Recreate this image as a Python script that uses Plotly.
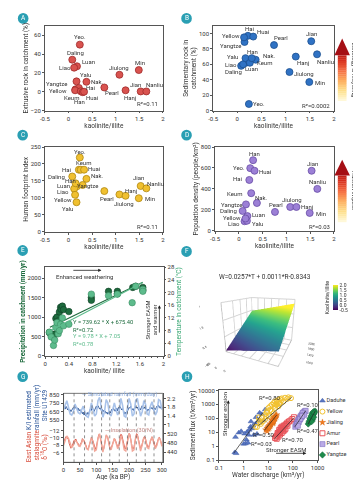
import math
import plotly.graph_objects as go

FIG_W, FIG_H = 361, 480
def fx(p): return p / FIG_W
def fy(p): return 1 - p / FIG_H

FONT = "Roboto"
INK = "#333333"

# ---------------- Panels A-D : river catchments ----------------
rivers = ["Yeo.", "Daling", "Luan", "Liao", "Yalu", "Nak.", "Yangtze", "Hai", "Yellow",
          "Keum", "Han", "Huai", "Pearl", "Jiulong", "Min", "Hanj", "Jian", "Nanliu"]
kaolinite_illite = [0.24, 0.08, 0.18, 0.12, 0.17, 0.38, 0.15, 0.22, 0.14,
                    0.26, 0.30, 0.33, 0.76, 1.08, 1.49, 1.21, 1.53, 1.65]
extrusive_pct = [50, 34, 27, 25.5, 11, 10.5, 2.5, 4, 1.5, 0.5, -0.5, 0, 4.5, 18, 23, 1.5, 0.3, 0.3]
sedimentary_pct = [8.5, 58, 62, 60, 68, 66, 89, 97, 95, 62, 68, 96, 85, 50, 37, 70, 90, 73]
human_footprint = [219, 163, 134, 127, 87, 156, 143, 183, 109, 183, 138, 183, 120, 110, 99, 106, 135, 128]
population_density = [598, 189, 140, 91, 95, 265, 252, 485, 117, 359, 674, 573, 180, 227, 170, 227, 573, 400]

# label offsets (px, right / down) for each river label, per panel
off_a = [(0, -8), (3, -7), (12, -5), (-9, 0), (9, -7), (11, 0), (-19, -6), (12, 0), (-17, 0),
         (-9, 6), (-3, 9), (8, 6), (8, 5), (0, -7), (1, -8), (5, 7), (-5, -7), (8, -7)]
off_b = [(10, 0), (-8, 6), (6, 6), (-12, 0), (-13, -2), (14, -4), (-14, 4), (2, -7), (-13, -2),
         (15, 0), (1, -7), (10, -5), (7, -8), (15, 1), (11, 0), (8, 6), (0, -8), (8, 7)]
off_c = [(0, -6), (-16, 0), (-13, -1), (-11, 3), (-9, 6), (11, -3), (12, 2), (-12, 0), (-12, 5),
         (3, -7), (-12, -4), (10, -1), (3, 7), (5, 9), (11, 0), (6, -5), (-2, -8), (9, -5)]
off_d = [(-11, -1), (-14, 0), (11, -2), (-11, 2), (11, 3), (5, -6), (-14, 0), (-11, -1), (-13, -1),
         (-17, 0), (1, -7), (11, 1), (1, -7), (2, -7), (11, 1), (11, 0), (1, -7), (0, -7)]

# ---------------- Panel E ----------------
e_ki_precip = [0.07, 0.10, 0.14, 0.16, 0.18, 0.20, 0.22, 0.24, 0.26, 0.27, 0.29, 0.31, 0.40,
               0.78, 0.78, 1.07, 1.22, 1.22, 1.48, 1.53, 1.65, 1.65]
e_precip = [600, 540, 470, 560, 960, 1000, 900, 1130, 1250, 1200, 1280, 1190, 1140,
            1500, 1430, 1660, 1660, 1600, 1760, 1790, 1760, 1690]
e_ki_temp = [0.07, 0.10, 0.14, 0.16, 0.18, 0.20, 0.22, 0.24, 0.26, 0.29, 0.31, 0.40,
             0.78, 1.07, 1.22, 1.47, 1.53, 1.65, 1.65]
e_temp = [7.5, 6.0, 3.3, 5.0, 9.0, 10.5, 7.0, 8.0, 10.0, 12.0, 9.5, 10.0,
          19.5, 19.0, 19.5, 16.8, 22.0, 21.0, 20.4]
precip_fit = (739.62, 675.40)
temp_fit = (9.78, 7.05)
fit_ki = [0.08, 1.65]

# ---------------- Panel F ----------------
f_coef_T, f_coef_R, f_intercept = 0.0257, 0.0011, -0.8343
f_temp = [-5, 0, 5, 10, 15, 20, 25]
f_rain = [500, 800, 1100, 1400, 1700, 2000, 2200]

# ---------------- Panel G ----------------
ki_rain = [690, 705, 680, 712, 695, 670, 688, 660, 672, 650, 668, 685, 700, 678, 710, 690, 705, 672,
           690, 660, 675, 640, 655, 625, 645, 610, 630, 600, 620, 640, 615, 650, 670, 690, 665, 700,
           680, 650, 670, 690, 715, 690, 720, 700, 680, 695, 665, 680, 650, 665, 640, 655, 630, 645,
           620, 640, 655, 635, 660, 680, 665, 690, 670, 655, 675, 690, 660, 700, 685, 710, 690, 670,
           685, 655, 640, 620, 645, 630, 655, 680, 700, 690, 715, 695, 670, 685, 660, 690, 710, 695,
           705, 680, 665, 690, 670, 700, 720, 700, 685, 705, 690, 670, 655, 680, 665, 690, 705, 685,
           700, 680, 665, 690, 675, 695, 715, 700, 725, 705, 690, 710, 700]
sim_rain = [1.7, 1.9, 2.1, 1.8, 1.5, 1.45, 1.6, 1.95, 1.75, 1.55, 1.5, 1.7, 1.85, 1.6, 1.4, 1.35,
            1.6, 2.0, 1.7, 1.4, 1.5, 2.1, 2.25, 1.8, 1.35, 1.6, 2.15, 2.0, 1.5, 1.4, 1.75, 2.0,
            1.7, 1.45, 1.65, 2.2, 1.9, 1.4, 1.35, 1.8, 2.2, 1.95, 1.4, 1.5, 2.1, 2.2, 1.7, 1.4,
            1.6, 2.1, 1.95, 1.5, 1.45, 1.85, 2.05, 1.7, 1.45, 1.6, 2.15, 2.1, 1.7]
d18o = [-8.8, -9.3, -9.6, -10.4, -10.2, -9.9, -9.5, -8.4, -7.8, -7.2, -7.5, -8.1, -8.6, -9.4, -9.3,
        -9.7, -9.0, -8.7, -8.4, -7.7, -8.0, -8.5, -8.9, -9.8, -9.6, -9.3, -8.8, -7.9, -7.4, -6.9,
        -7.0, -7.6, -8.3, -9.4, -9.9, -9.8, -9.1, -7.9, -7.2, -6.9, -7.6, -9.0, -10.1, -10.9, -10.8,
        -10.0, -8.9, -7.6, -6.8, -7.0, -8.1, -9.6, -10.6, -10.5, -10.0, -8.8, -7.9, -7.0, -7.1, -7.8,
        -8.7, -9.5, -9.8, -9.6, -9.0, -8.1, -7.6, -7.7, -8.5, -10.1, -11.0, -10.8, -9.9, -8.6, -7.5,
        -7.0, -7.3, -8.3, -9.5, -10.6, -11.2, -10.9, -10.0, -8.4, -7.2, -7.0, -7.6, -9.0, -10.4, -11.1,
        -11.0, -10.0, -8.6, -7.6, -7.1, -7.5, -8.4, -9.6, -10.2, -10.3, -9.8, -8.8, -7.9, -7.4, -7.6,
        -8.4, -9.3, -10.1, -10.3, -9.8, -8.9, -8.0, -7.6, -7.8, -8.3, -9.2, -9.9, -10.1, -9.6, -8.8, -8.0]
insolation = [470, 495, 510, 500, 475, 460, 470, 490, 485, 470, 465, 480, 495, 480, 455, 450,
              475, 505, 480, 445, 450, 500, 520, 480, 440, 470, 515, 505, 465, 450, 480, 500,
              480, 455, 470, 510, 490, 450, 445, 490, 520, 495, 445, 450, 505, 515, 475, 445,
              470, 505, 495, 460, 455, 490, 505, 480, 455, 470, 500, 495, 465]
dashed_ages = [32, 64, 87, 116, 141, 170, 195, 222, 249, 276]
age_fine = [i * 2.5 for i in range(len(ki_rain))]
age_d18o = [i * 2.5 for i in range(len(d18o))]
age_coarse = [i * 5 for i in range(len(sim_rain))]

# ---------------- Panel H ----------------
daduhe_q = [0.44, 0.47, 0.64, 1.0, 1.3, 1.6, 2.2, 3.0, 4.1, 5.5, 7.6, 2.6, 3.5, 1.9, 1.4, 6.5,
            0.5, 0.8, 1.2, 1.7, 2.4, 3.2, 4.5, 2.0, 1.1, 1.5]
daduhe_s = [0.37, 4.6, 9.6, 1.5, 3.0, 6.6, 19, 41, 69, 200, 435, 6.6, 7.8, 25, 11, 69,
            0.32, 12, 1.6, 15, 30, 120, 250, 60, 8, 1.8]
yellow_q = [3.5, 4.8, 5.6, 7.6, 8.8, 10.3, 12, 14, 16.4, 19, 22, 26, 30, 35.5, 48, 66, 84, 14, 19, 26,
            10.3, 7.6, 16.4, 22, 30, 41, 4.1, 4.3, 12, 20, 9, 6, 25, 35, 60, 5, 3, 8, 18, 28]
yellow_s = [24, 53, 117, 197, 333, 562, 731, 949, 1232, 1600, 1780, 2080, 2430, 2700, 3000, 3200, 2800,
            333, 562, 731, 150, 90, 220, 949, 1232, 1600, 117, 69, 400, 1000, 250, 60, 1500, 2000,
            2500, 40, 25, 140, 800, 1100]
jialing_q = [8, 9, 10, 11, 12, 14, 15, 17, 18, 20, 13, 16, 10, 22, 12, 19, 15, 9, 14, 21, 11, 17]
jialing_s = [15, 20, 25, 30, 40, 55, 70, 90, 120, 150, 35, 50, 18, 180, 28, 100, 45, 12, 80, 130, 22, 60]
amur_q = [19, 21, 23, 25, 28, 30, 33, 36, 40, 45, 50, 55, 60, 70, 80, 95, 110, 22, 26, 30, 35, 40,
          45, 50, 28, 35, 42, 24, 60, 32]
amur_s = [4, 5, 6, 8, 10, 12, 15, 18, 22, 28, 35, 40, 50, 60, 70, 90, 120, 3.5, 5, 7, 9, 12, 14, 18,
          15, 25, 30, 9, 30, 20]
pearl_q = [125, 135, 145, 155, 165, 180, 195, 210, 230, 250, 270, 290, 310, 330, 150, 190, 230, 270,
           250, 210, 175, 290, 160, 200, 240]
pearl_s = [25, 35, 45, 60, 75, 95, 120, 150, 180, 220, 260, 300, 330, 350, 40, 80, 130, 200, 250,
           110, 55, 180, 30, 90, 150]
yangtze_q = [420, 450, 480, 520, 560, 600, 640, 680, 720, 760, 800, 500, 550, 600, 650, 700, 750,
             620, 580, 700]
yangtze_s = [40, 55, 70, 90, 110, 140, 170, 200, 240, 280, 330, 100, 150, 210, 260, 300, 250, 80, 60, 120]
fit_lines = {
    "Daduhe": ([0.4, 6], [0.33, 250]),
    "Yellow": ([4, 90], [30, 3300]),
    "Jialing": ([7, 22], [14, 170]),
    "Amur": ([18, 110], [3.5, 110]),
    "Pearl": ([120, 330], [25, 350]),
    "Yangtze": ([420, 800], [40, 330]),
}
h_groups = ["Daduhe", "Yellow", "Jialing", "Amur", "Pearl", "Yangtze"]

# ---------------- figure ----------------
fig = go.Figure()
shapes, annotations = [], []
TICK_FS, LABEL_FS, TITLE_FS = 6, 6, 6.5

def base_axis(domain, anchor, **kw):
    d = dict(domain=domain, anchor=anchor, showline=True, linecolor="#555", linewidth=0.8,
             mirror=True, ticks="outside", ticklen=2, tickwidth=0.7, tickcolor="#555",
             tickfont=dict(size=TICK_FS, color=INK, family=FONT), showgrid=False, zeroline=False)
    d.update(kw)
    return d

def ttl(text, color=INK, size=TITLE_FS, standoff=1):
    return dict(text=text, font=dict(size=size, color=color, family=FONT), standoff=standoff)

def paper_note(x, y, text, size=LABEL_FS, color=INK, angle=0, **kw):
    d = dict(x=fx(x), y=fy(y), xref="paper", yref="paper", text=text, showarrow=False,
             xanchor="center", yanchor="middle", textangle=angle,
             font=dict(size=size, color=color, family=FONT))
    d.update(kw)
    return d

ki_ticks = dict(tickvals=[-0.5, 0, 0.5, 1, 1.5, 2], ticktext=["-0.5", "0", "0.5", "1", "1.5", "2"],
                range=[-0.5, 2])

def river_panel(xa, ya, yvals, fill, edge, offsets):
    fig.add_trace(go.Scatter(
        x=kaolinite_illite, y=yvals, xaxis=xa, yaxis=ya, mode="markers",
        marker=dict(size=7, color=fill, line=dict(color=edge, width=0.8)),
        showlegend=False, cliponaxis=False))
    for name, kx, v, (dx, dy) in zip(rivers, kaolinite_illite, yvals, offsets):
        annotations.append(dict(x=kx, y=v, xref=xa, yref=ya, text=name, showarrow=False,
                                xanchor="center", yanchor="middle", xshift=dx, yshift=-dy,
                                font=dict(size=LABEL_FS, color=INK, family=FONT)))

river_panel("x", "y", extrusive_pct, "#d9534f", "#9e2a2a", off_a)
river_panel("x2", "y2", sedimentary_pct, "#2f72c4", "#1c4f8f", off_b)
river_panel("x3", "y3", human_footprint, "#f0c030", "#b08810", off_c)
river_panel("x4", "y4", population_density, "#9c80d6", "#684ca6", off_d)

layout_axes = dict(
    xaxis=base_axis([fx(33), fx(155)], "y", title=ttl("kaolinite/illite"), **ki_ticks),
    yaxis=base_axis([fy(100), fy(14)], "x", range=[-20, 70], tickvals=[-20, 0, 20, 40, 60],
                    title=ttl("Extrusive rock in catchment (%)")),
    xaxis2=base_axis([fx(207), fx(332)], "y2", title=ttl("kaolinite/illite"), **ki_ticks),
    yaxis2=base_axis([fy(100), fy(14)], "x2", range=[0, 110], tickvals=[0, 20, 40, 60, 80, 100],
                     title=ttl("Sedimentary rock in<br>catchment (%)")),
    xaxis3=base_axis([fx(33), fx(155)], "y3", title=ttl("kaolinite/illite"), **ki_ticks),
    yaxis3=base_axis([fy(223), fy(137)], "x3", range=[0, 250], dtick=50,
                     title=ttl("Human footprint index")),
    xaxis4=base_axis([fx(209), fx(332)], "y4", title=ttl("kaolinite/illite"), **ki_ticks),
    yaxis4=base_axis([fy(222), fy(137)], "x4", range=[0, 800], dtick=200,
                     title=ttl("Population density (people/km²)")),
)

for xa, ya, txt, yv in [("x", "y", "R²=0.11", -13), ("x2", "y2", "R²=0.0002", 7),
                        ("x3", "y3", "R²=0.11", 15), ("x4", "y4", "R²=0.03", 45)]:
    annotations.append(dict(x=1.95, y=yv, xref=xa, yref=ya, text=txt, showarrow=False,
                            xanchor="right", font=dict(size=LABEL_FS, color=INK, family=FONT)))

# ---- Panel E
fig.add_trace(go.Scatter(x=e_ki_precip, y=e_precip, xaxis="x5", yaxis="y5", mode="markers",
                         marker=dict(size=6.5, color="#1e6b3e", line=dict(color="#0f4025", width=0.6)),
                         showlegend=False))
fig.add_trace(go.Scatter(x=e_ki_temp, y=e_temp, xaxis="x5", yaxis="y6", mode="markers",
                         marker=dict(size=6.5, color="#5dbb8c", line=dict(color="#3a8d63", width=0.6)),
                         showlegend=False))
fig.add_trace(go.Scatter(x=fit_ki, y=[precip_fit[0] * k + precip_fit[1] for k in fit_ki],
                         xaxis="x5", yaxis="y5", mode="lines", line=dict(color="#1e6b3e", width=1.1),
                         showlegend=False))
fig.add_trace(go.Scatter(x=fit_ki, y=[temp_fit[0] * k + temp_fit[1] for k in fit_ki],
                         xaxis="x5", yaxis="y6", mode="lines", line=dict(color="#5dbb8c", width=1.1),
                         showlegend=False))
layout_axes.update(
    xaxis5=base_axis([fx(33.3), fx(155.7)], "y5", range=[0, 2],
                     tickvals=[0, 0.4, 0.8, 1.2, 1.6, 2], ticktext=["0", "0.4", "0.8", "1.2", "1.6", "2"],
                     minor=dict(ticks="outside", dtick=0.1, ticklen=1.5, tickcolor="#555"),
                     title=ttl("kaolinite/ illite")),
    yaxis5=base_axis([fy(349), fy(259)], "x5", range=[0, 2280], tickvals=[0, 500, 1000, 1500, 2000],
                     mirror=False, title=ttl("<b>Precipitation in catchment (mm/yr)</b>", "#1e6b3e")),
    yaxis6=base_axis([fy(349), fy(259)], "x5", overlaying="y5", side="right", range=[0, 28], dtick=4,
                     mirror=False, title=ttl("Temperature in catchment (°C)", "#3aa874")),
)
annotations += [
    dict(x=0.66, y=2040, xref="x5", yref="y5", text="Enhanced weathering", showarrow=False,
         font=dict(size=LABEL_FS, color=INK, family=FONT)),
    dict(x=0.95, y=2200, ax=0.45, ay=2200, xref="x5", yref="y5", axref="x5", ayref="y5", text="",
         showarrow=True, arrowhead=2, arrowsize=0.8, arrowwidth=0.8, arrowcolor="#222"),
    dict(x=0.44, y=760, xref="x5", yref="y5", text="Y = 739.62 * X + 675.40<br>R²=0.72", showarrow=False,
         xanchor="left", align="left", font=dict(size=5.8, color="#1e6b3e", family=FONT)),
    dict(x=0.44, y=400, xref="x5", yref="y5", text="Y = 9.78 * X + 7.05<br>R²=0.78", showarrow=False,
         xanchor="left", align="left", font=dict(size=5.8, color="#5dbb8c", family=FONT)),
    dict(x=1.80, y=930, xref="x5", yref="y5", text="Stronger EASM<br>and warmer", showarrow=False,
         textangle=-90, font=dict(size=5.8, color=INK, family=FONT)),
    dict(x=1.93, y=1300, ax=1.93, ay=560, xref="x5", yref="y5", axref="x5", ayref="y5", text="",
         showarrow=True, arrowhead=2, arrowsize=0.8, arrowwidth=0.8, arrowcolor="#222"),
]

# ---- Panel F surface
Z = [[f_coef_T * t + f_coef_R * r + f_intercept for t in f_temp] for r in f_rain]
fig.add_trace(go.Surface(
    x=f_temp, y=f_rain, z=Z, colorscale="Viridis", cmin=-0.5, cmax=2.0, scene="scene",
    colorbar=dict(x=fx(331), xanchor="left", y=fy(289.5), yanchor="middle", len=25 / FIG_H,
                  thickness=5, tickvals=[-0.5, 0, 0.5, 1, 1.5, 2],
                  ticktext=["-0.5", "0.0", "0.5", "1.0", "1.5", "2.0"],
                  tickfont=dict(size=5, color=INK, family=FONT), outlinewidth=0, ticks="",
                  xpad=0, ypad=0),
    showscale=True))
scene_axis = dict(showbackground=True, backgroundcolor="white", gridcolor="#d5d5d5", linecolor="#999",
                  tickfont=dict(size=TICK_FS, color=INK, family=FONT), showspikes=False, zeroline=False)
fig.update_layout(scene=dict(
    domain=dict(x=[fx(192), fx(322)], y=[fy(366), fy(268)]),
    xaxis=dict(scene_axis, title=dict(text="Temperature (°C)", font=dict(size=TICK_FS, color=INK)),
               range=[-5, 25], tickvals=[-5, 0, 5, 10, 15, 20, 25]),
    yaxis=dict(scene_axis, title=dict(text="Rainfall (mm)", font=dict(size=TICK_FS, color=INK)),
               range=[500, 2200], tickvals=[500, 1000, 1400, 1800, 2200]),
    zaxis=dict(scene_axis, title=dict(text=""), range=[-0.5, 2.5], tickvals=[-0.5, 0.5, 1.5, 2.5]),
    camera=dict(eye=dict(x=0.9, y=-1.95, z=0.7), center=dict(x=0, y=0, z=0)),
    aspectmode="manual", aspectratio=dict(x=1, y=1, z=0.9)))
annotations += [
    paper_note(261, 269, "W=0.0257*T + 0.0011*R-0.8343", size=TITLE_FS),
    paper_note(325, 289.5, "Kaolinite/illite", size=5.5, angle=-90),
]

# ---- Panel G
fig.add_trace(go.Scatter(x=age_coarse, y=sim_rain, xaxis="x6", yaxis="y8", mode="lines",
                         line=dict(color="#a9c3ea", width=1.6), showlegend=False))
fig.add_trace(go.Scatter(x=age_fine, y=ki_rain, xaxis="x6", yaxis="y7", mode="lines",
                         line=dict(color="#2a5599", width=0.9), showlegend=False))
fig.add_trace(go.Scatter(x=age_coarse, y=insolation, xaxis="x6", yaxis="y10", mode="lines",
                         line=dict(color="#f2a89a", width=1.4), showlegend=False))
fig.add_trace(go.Scatter(x=age_d18o, y=d18o, xaxis="x6", yaxis="y9",
                         mode="lines", line=dict(color="#d9503f", width=0.9), showlegend=False))
g_top, g_mid, g_bot = 387, 422, 457
layout_axes.update(
    xaxis6=base_axis([fx(52.3), fx(155)], "y9", range=[0, 303], tickvals=[0, 50, 100, 150, 200, 250, 300],
                     mirror=False, title=ttl("Age (ka BP)", standoff=0)),
    yaxis7=base_axis([fy(g_mid), fy(g_top)], "x6", range=[460, 865], tickvals=[550, 650, 750, 850],
                     mirror=False),
    yaxis8=base_axis([fy(g_mid), fy(g_top)], "x6", overlaying="y7", side="right", range=[0.87, 2.43],
                     tickvals=[1, 1.4, 1.8, 2.2], mirror=False),
    yaxis9=base_axis([fy(g_bot), fy(g_mid)], "x6", range=[-3.4, -12.7], tickvals=[-12, -10, -8, -6],
                     mirror=False),
    yaxis10=base_axis([fy(g_bot), fy(g_mid)], "x6", overlaying="y9", side="right", range=[396, 545],
                      tickvals=[440, 480, 520], mirror=False),
)
shapes.append(dict(type="rect", xref="paper", yref="paper", x0=fx(52.3), x1=fx(155), y0=fy(g_bot),
                   y1=fy(g_top), line=dict(color="#555", width=0.8)))
for a in dashed_ages:
    shapes.append(dict(type="line", xref="x6", yref="paper", x0=a, x1=a, y0=fy(g_bot), y1=fy(g_top),
                       line=dict(color="#444", width=0.6, dash="dot")))
RED, BLUE = "#d9503f", "#2a5599"
annotations += [
    dict(x=50, y=2.36, xref="x6", yref="y8", text="— Simulated rainfall (mm/day)", showarrow=False,
         xanchor="left", font=dict(size=5.6, color="#8eaee0", family=FONT)),
    dict(x=120, y=533, xref="x6", yref="y10", text="— Insolation (30°N)", showarrow=False,
         xanchor="left", font=dict(size=5.6, color="#c48a86", family=FONT)),
    paper_note(16, 420, f"<span style='color:{RED}'>East Asian</span> <span style='color:{BLUE}'>K/I estimated</span>",
               size=TITLE_FS, angle=-90),
    paper_note(24.5, 417, f"<span style='color:{RED}'>stalagmite</span><span style='color:{BLUE}'>rainfall (mm/yr)</span>",
               size=TITLE_FS, angle=-90),
    paper_note(33, 419, f"<span style='color:{RED}'>δ<sup>18</sup>O (‰)</span>        <span style='color:{BLUE}'>Site U1429</span>",
               size=TITLE_FS, angle=-90),
]

# ---- Panel H
h_style = {
    "Daduhe": dict(symbol="triangle-up", color="#5b78c4", line=dict(color="#3d5aa5", width=0.5)),
    "Yellow": dict(symbol="circle-open", color="#f2c230", line=dict(color="#f2c230", width=1)),
    "Jialing": dict(symbol="star", color="#f07a1e", line=dict(color="#d0600a", width=0.3)),
    "Amur": dict(symbol="square-open", color="#e8545a", line=dict(color="#e8545a", width=1)),
    "Pearl": dict(symbol="square", color="#b9aae6", line=dict(color="#8070c0", width=0.6)),
    "Yangtze": dict(symbol="diamond", color="#1d8a4a", line=dict(color="#11663a", width=0.5)),
}
h_data = {"Daduhe": (daduhe_q, daduhe_s), "Yellow": (yellow_q, yellow_s), "Jialing": (jialing_q, jialing_s),
          "Amur": (amur_q, amur_s), "Pearl": (pearl_q, pearl_s), "Yangtze": (yangtze_q, yangtze_s)}
for g in h_groups:
    q, s = h_data[g]
    fig.add_trace(go.Scatter(x=q, y=s, xaxis="x7", yaxis="y11", mode="markers",
                             marker=dict(size=5, **h_style[g]), showlegend=False))
for g in h_groups:
    q, s = fit_lines[g]
    fig.add_trace(go.Scatter(x=q, y=s, xaxis="x7", yaxis="y11", mode="lines",
                             line=dict(color="#222", width=0.7), showlegend=False))
h_bot = 455
layout_axes.update(
    xaxis7=base_axis([fx(213), fx(315)], "y11", type="log", range=[-1, 3],
                     tickvals=[0.1, 1, 10, 100, 1000], ticktext=["0.1", "1", "10", "100", "1000"],
                     title=ttl("Water discharge (km³/yr)", standoff=0)),
    yaxis11=base_axis([fy(h_bot), fy(384)], "x7", type="log", range=[-1, 4],
                      tickvals=[0.1, 1, 10, 100, 1000, 10000],
                      ticktext=["0.1", "1", "10", "100", "1000", "10000"],
                      title=ttl("Sediment flux (t/km²/yr)")),
    xaxis8=dict(domain=[fx(317), fx(361)], anchor="y12", range=[0, 1], visible=False),
    yaxis12=dict(domain=[fy(455), fy(389)], anchor="x8", range=[-0.5, 5.5], visible=False),
)
for i, g in enumerate(h_groups):
    fig.add_trace(go.Scatter(x=[0.07], y=[5 - i], xaxis="x8", yaxis="y12", mode="markers+text",
                             text=[g], textposition="middle right",
                             textfont=dict(size=5.6, color=INK, family=FONT),
                             marker=dict(size=5, **h_style[g]), showlegend=False, cliponaxis=False))
def lg(v): return math.log10(v)
h_r2 = [("R²=0.80", 12, 3300), ("R²=0.10", 420, 950), ("R²=0.47", 420, 14), ("R²=0.70", 105, 3.3),
        ("R²=0.50", 7, 6.6), ("R²=0.03", 5.2, 1.5)]
for txt, qx, sy in h_r2:
    annotations.append(dict(x=lg(qx), y=lg(sy), xref="x7", yref="y11", text=txt, showarrow=False,
                            font=dict(size=LABEL_FS, color=INK, family=FONT)))
annotations += [
    dict(x=lg(0.16), y=lg(200), xref="x7", yref="y11", text="Stronger erosion", textangle=-90,
         showarrow=False, font=dict(size=LABEL_FS, color=INK, family=FONT)),
    dict(x=lg(0.24), y=lg(2000), ax=lg(0.24), ay=lg(15), xref="x7", yref="y11", axref="x7", ayref="y11",
         text="", showarrow=True, arrowhead=2, arrowsize=0.8, arrowwidth=0.8, arrowcolor="#222"),
    dict(x=lg(55), y=lg(0.6), xref="x7", yref="y11", text="Stronger EASM", showarrow=False,
         font=dict(size=LABEL_FS, color=INK, family=FONT)),
    dict(x=lg(350), y=lg(0.32), ax=lg(18), ay=lg(0.32), xref="x7", yref="y11", axref="x7", ayref="y11",
         text="", showarrow=True, arrowhead=2, arrowsize=0.8, arrowwidth=0.8, arrowcolor="#222"),
]

# ---- gradient arrows for B and D
STOPS = ["#a50f15", "#d7301f", "#f46d43", "#fdae61", "#fee08b", "#fffbe0"]
def lerp_color(t):
    n = len(STOPS) - 1
    i = min(int(t * n), n - 1)
    lt = t * n - i
    c0 = [int(STOPS[i][k:k + 2], 16) for k in (1, 3, 5)]
    c1 = [int(STOPS[i + 1][k:k + 2], 16) for k in (1, 3, 5)]
    return "rgb(%d,%d,%d)" % tuple(round(a + (b - a) * lt) for a, b in zip(c0, c1))

def gradient_arrow(cx, ytop, ybase, ybottom, label, ylabel):
    N = 24
    for k in range(N):
        ya = ybase + (ybottom - ybase) * k / N
        yb = ybase + (ybottom - ybase) * (k + 1) / N + 0.3
        shapes.append(dict(type="rect", xref="paper", yref="paper", x0=fx(cx - 4.5), x1=fx(cx + 4.5),
                           y0=fy(yb), y1=fy(ya), fillcolor=lerp_color(0.1 + 0.9 * (k + 0.5) / N),
                           line=dict(width=0), layer="above"))
    shapes.append(dict(type="path", xref="paper", yref="paper",
                       path=f"M {fx(cx - 8)} {fy(ybase)} L {fx(cx + 8)} {fy(ybase)} L {fx(cx)} {fy(ytop)} Z",
                       fillcolor=STOPS[0], line=dict(width=0)))
    annotations.append(paper_note(cx + 13, ylabel, label, angle=90))

gradient_arrow(340.5, 27, 44, 90, "Lithology & recycling", 59)
gradient_arrow(340.5, 150, 166, 213, "Human impact", 181)

# ---- panel letter badges
for letter, cx, cy in [("A", 10.5, 6.5), ("B", 179.5, 6.5), ("C", 10, 125), ("D", 179.5, 125),
                       ("E", 10, 242), ("F", 179.5, 243), ("G", 10, 370), ("H", 180, 370)]:
    shapes.append(dict(type="circle", xref="paper", yref="paper", x0=fx(cx - 5.5), x1=fx(cx + 5.5),
                       y0=fy(cy + 5.5), y1=fy(cy - 5.5), fillcolor="#2a9fb3", line=dict(width=0)))
    annotations.append(paper_note(cx, cy, letter, size=6.5, color="white"))

fig.update_layout(
    width=FIG_W, height=FIG_H, margin=dict(l=0, r=0, t=0, b=0),
    paper_bgcolor="white", plot_bgcolor="white",
    font=dict(family=FONT, size=7, color=INK),
    showlegend=False, shapes=shapes, annotations=annotations, **layout_axes)

fig.write_html("out.html")
